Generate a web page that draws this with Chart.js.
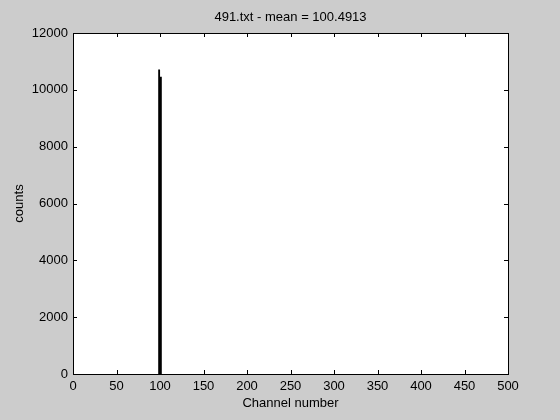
<!DOCTYPE html>
<html>
<head>
<meta charset="utf-8">
<script src="https://cdn.jsdelivr.net/npm/chart.js@4"></script>
<style>
  html, body { margin: 0; padding: 0; background: #cccccc; }
  #wrap { width: 560px; height: 420px; }
</style>
</head>
<body>
<div id="wrap"><canvas id="chart"></canvas></div>
<script>
const channels = [99, 100, 101];
const counts = [10700, 6100, 10450];
const xTicks = [0, 50, 100, 150, 200, 250, 300, 350, 400, 450, 500];
const yTicks = [0, 2000, 4000, 6000, 8000, 10000, 12000];
const titleText = '491.txt - mean = 100.4913';

const FONT = { family: '"Liberation Sans", Arial, sans-serif', size: 13 };

// matlab style: box around the axes, ticks pointing inward on all sides
const innerTicks = {
    id: 'innerTicks',
    afterDraw(chart) {
        const ctx = chart.ctx;
        const a = chart.chartArea;
        const xs = chart.scales.x, ys = chart.scales.y;
        const len = 4;
        ctx.save();
        ctx.strokeStyle = '#000';
        ctx.lineWidth = 1;
        ctx.beginPath();
        xTicks.forEach(v => {
            const px = Math.round(xs.getPixelForValue(v)) + 0.5;
            ctx.moveTo(px, a.bottom); ctx.lineTo(px, a.bottom - len);
            ctx.moveTo(px, a.top); ctx.lineTo(px, a.top + len);
        });
        yTicks.forEach(v => {
            const py = Math.round(ys.getPixelForValue(v)) + 0.5;
            ctx.moveTo(a.left, py); ctx.lineTo(a.left + len, py);
            ctx.moveTo(a.right, py); ctx.lineTo(a.right - len, py);
        });
        ctx.stroke();
        ctx.strokeRect(Math.round(a.left) + 0.5, Math.round(a.top) + 0.5,
            Math.round(a.right - a.left), Math.round(a.bottom - a.top));
        ctx.restore();
    }
};

const whiteArea = {
    id: 'whiteArea',
    beforeDraw(chart) {
        const ctx = chart.ctx;
        const a = chart.chartArea;
        ctx.save();
        ctx.fillStyle = '#cccccc';
        ctx.fillRect(0, 0, chart.width, chart.height);
        ctx.fillStyle = '#ffffff';
        ctx.fillRect(a.left, a.top, a.right - a.left, a.bottom - a.top);
        ctx.restore();
    }
};

new Chart(document.getElementById('chart'), {
    type: 'bar',
    data: {
        datasets: [{
            data: channels.map((c, i) => ({ x: c, y: counts[i] })),
            backgroundColor: '#000000',
            borderWidth: 0,
            barThickness: 1.2
        }]
    },
    options: {
        responsive: true,
        maintainAspectRatio: false,
        animation: false,
        layout: { padding: { left: 0, right: 52, top: 0, bottom: 0 } },
        plugins: {
            legend: { display: false },
            tooltip: { enabled: false },
            title: { display: false }
        },
        scales: {
            x: {
                type: 'linear',
                min: 0, max: 500,
                offset: false,
                afterBuildTicks: s => { s.ticks = xTicks.map(v => ({ value: v })); },
                afterFit: s => { s.height = 46; },
                grid: { display: false, drawTicks: false },
                border: { display: false },
                ticks: { color: '#000', font: FONT, padding: 5, maxRotation: 0, callback: v => String(v) },
                title: { display: true, text: 'Channel number', color: '#000', font: FONT, padding: { top: 2, bottom: 9 } }
            },
            // top axis only carries the plot title, centred over the axes box
            x2: {
                type: 'linear',
                position: 'top',
                min: 0, max: 500,
                afterFit: s => { s.height = 33; },
                grid: { display: false, drawTicks: false },
                border: { display: false },
                ticks: { display: false },
                title: { display: true, text: titleText, color: '#000', font: FONT, padding: { top: 9.5, bottom: 0 } }
            },
            y: {
                min: 0, max: 12000,
                afterBuildTicks: s => { s.ticks = yTicks.map(v => ({ value: v })); },
                afterFit: s => { s.width = 73; },
                grid: { display: false, drawTicks: false },
                border: { display: false },
                ticks: { color: '#000', font: FONT, padding: 5, callback: v => String(v) },
                title: { display: true, text: 'counts', color: '#000', font: FONT, padding: { top: 12, bottom: 0 } }
            }
        }
    },
    plugins: [whiteArea, innerTicks]
});
</script>
</body>
</html>
